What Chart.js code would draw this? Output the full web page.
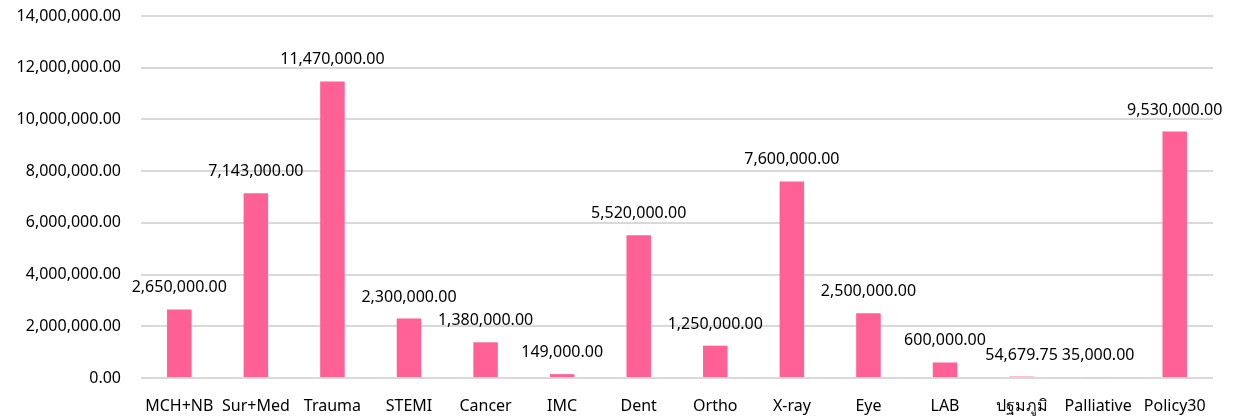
<!DOCTYPE html>
<html>
<head>
<meta charset="utf-8">
<script src="https://cdn.jsdelivr.net/npm/chart.js@4"></script>
<style>
  html, body { margin: 0; padding: 0; background: #fff; }
  #wrap { width: 1236px; height: 416px; }
</style>
</head>
<body>
<div id="wrap"><canvas id="chart"></canvas></div>
<script>
const CATEGORIES = ["MCH+NB", "Sur+Med", "Trauma", "STEMI", "Cancer", "IMC", "Dent", "Ortho",
  "X-ray", "Eye", "LAB", "ปฐมภูมิ", "Palliative", "Policy30"];
const BUDGET = [2650000, 7143000, 11470000, 2300000, 1380000, 149000, 5520000, 1250000,
  7600000, 2500000, 600000, 54679.75, 35000, 9530000];
const Y_MAX = 14000000;
const Y_STEP = 2000000;

const BAR_COLOR = "#FF6196";
const FONT = "'Noto Sans', Tahoma, sans-serif";

const fmt = (v) => v.toLocaleString("en-US", { minimumFractionDigits: 2, maximumFractionDigits: 2 });

// draws the value above each bar
const valueLabels = {
  id: "valueLabels",
  afterDatasetsDraw(chart) {
    const ctx = chart.ctx;
    const meta = chart.getDatasetMeta(0);
    ctx.save();
    ctx.font = "16px " + FONT;
    ctx.fillStyle = "#000";
    ctx.textAlign = "center";
    ctx.textBaseline = "alphabetic";
    meta.data.forEach((bar, i) => {
      ctx.fillText(fmt(chart.data.datasets[0].data[i]), bar.x, bar.y - 17);
    });
    ctx.restore();
  },
};

new Chart(document.getElementById("chart").getContext("2d"), {
  type: "bar",
  data: {
    labels: CATEGORIES,
    datasets: [
      {
        data: BUDGET,
        backgroundColor: BAR_COLOR,
        categoryPercentage: 0.32,
        barPercentage: 1,
      },
    ],
  },
  options: {
    responsive: true,
    maintainAspectRatio: false,
    animation: false,
    layout: { padding: { top: 16, right: 23, bottom: 0, left: 0 } },
    plugins: { legend: { display: false }, tooltip: { enabled: false } },
    scales: {
      x: {
        grid: { display: false, drawTicks: false },
        border: { display: false },
        ticks: { color: "#000", font: { family: FONT, size: 16 }, padding: 19, maxRotation: 0, autoSkip: false },
        afterFit: (axis) => { axis.height = 38; },
      },
      y: {
        min: 0,
        max: Y_MAX,
        ticks: {
          stepSize: Y_STEP,
          color: "#000",
          font: { family: FONT, size: 16 },
          padding: 0,
          callback: (v) => fmt(v),
        },
        // invisible tick marks push the labels away from the plot
        grid: { color: "#D9D9D9", lineWidth: 2, drawTicks: true, tickLength: 20, tickColor: "rgba(0,0,0,0)" },
        border: { display: false },
        afterFit: (axis) => {
          axis.width = 141;
          axis.paddingTop = 0;
          axis.paddingBottom = 0;
        },
      },
    },
  },
  plugins: [valueLabels],
});
</script>
</body>
</html>
